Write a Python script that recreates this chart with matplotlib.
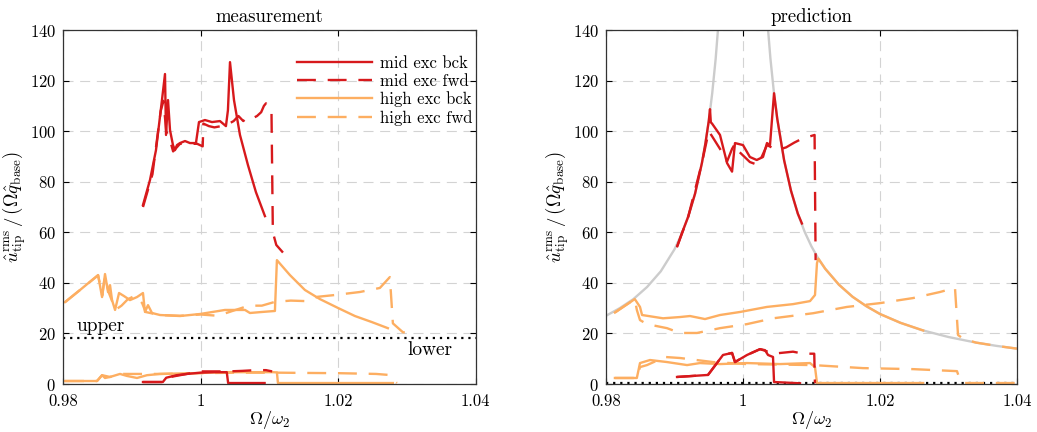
import matplotlib
matplotlib.use("Agg")
import matplotlib.pyplot as plt

plt.rcParams['font.family'] = 'serif'
plt.rcParams['font.serif'] = ['cmr10']
plt.rcParams['mathtext.fontset'] = 'cm'
plt.rcParams['axes.formatter.use_mathtext'] = True

RED = '#d7191c'
ORANGE = '#fdae61'
GRAY = '#cccccc'

xticks = [0.98, 1.0, 1.02, 1.04]
xtick_labels = ['0.98', '1', '1.02', '1.04']
yticks = [0, 20, 40, 60, 80, 100, 120, 140]
titles = ['measurement', 'prediction']
labels = ['mid exc bck', 'mid exc fwd', 'high exc bck', 'high exc fwd']

# ---- measurement ----
m_mid_bck_x = [0.99162, 0.99264, 0.99351, 0.99438, 0.99482, 0.99497, 0.99526, 0.99555, 0.99598, 0.99627,
               0.99656, 0.9970, 0.99773, 0.99845, 0.99932, 0.99976, 1.00063, 1.00165, 1.00281, 1.00368,
               1.00397, 1.00427, 1.00485, 1.00572, 1.00688, 1.00804, 1.00935]
m_mid_bck_y = [70.8, 80.7, 92.5, 112.3, 122.6, 98.5, 112.3, 100.4, 94.5, 92.5,
               94.5, 95.3, 96.1, 95.3, 95.3, 103.6, 104.4, 103.6, 104.0, 102.0,
               108.3, 127.3, 112.3, 98.5, 86.6, 75.9, 66.4]
m_mid_fwd_x = [0.99162, 0.9930, 0.9942, 0.9946, 0.9950, 0.9955, 0.9960, 0.9970, 0.9985, 0.9995,
               1.0003, 1.0004, 1.0012, 1.0020, 1.0030, 1.0038, 1.0048, 1.0055, 1.0062, 1.0068,
               1.0075, 1.0082, 1.0088, 1.0092, 1.0095, 1.0103, 1.0105, 1.0110, 1.01197]
m_mid_fwd_y = [70.0, 83.0, 108.0, 112.0, 100.0, 97.0, 92.0, 95.0, 95.0, 95.0,
               94.0, 103.0, 102.0, 101.5, 102.0, 102.5, 104.0, 106.0, 104.0, 105.5,
               105.0, 106.0, 107.5, 110.0, 111.0, 108.0, 60.0, 55.0, 52.0]
m_mid_bck_lo_x = [0.99162, 0.9945, 0.9950, 0.9965, 0.9980, 1.0, 1.0020, 1.0038, 1.0040, 1.0093]
m_mid_bck_lo_y = [0.8, 0.8, 2.5, 3.5, 4.0, 4.5, 4.7, 4.7, 0.4, 0.4]
m_mid_fwd_lo_x = [0.99162, 0.9945, 0.9950, 0.9980, 1.0, 1.0040, 1.0060, 1.0080, 1.0095, 1.0104]
m_mid_fwd_lo_y = [0.8, 0.8, 2.5, 4.0, 5.0, 5.0, 5.2, 5.5, 5.5, 5.0]

m_high_bck_x = [0.98029, 0.98247, 0.98509, 0.98567, 0.98610, 0.98654, 0.98683, 0.98712, 0.98756, 0.98814,
                0.98886, 0.98973, 0.99075, 0.99162, 0.99191, 0.99235, 0.99293, 0.99409, 0.99700, 0.99991,
                1.00354, 1.00645, 1.00717, 1.00891, 1.01080, 1.01109, 1.01298, 1.01516, 1.01734, 1.01996,
                1.02243, 1.02490, 1.02722]
m_high_bck_y = [32.4, 37.2, 43.1, 34.4, 43.5, 36.4, 39.1, 33.2, 29.3, 36.0,
                34.8, 33.2, 34.4, 36.0, 28.5, 31.2, 28.1, 27.3, 26.9, 27.7,
                29.3, 29.3, 28.1, 28.5, 28.9, 49.0, 43.1, 37.2, 33.6, 30.1,
                26.9, 24.5, 22.1]
m_high_fwd_x = [0.98029, 0.9851, 0.9857, 0.9861, 0.9866, 0.9871, 0.9876, 0.9885, 0.9894, 0.9905,
                0.9915, 0.9920, 0.9940, 0.9970, 1.0, 1.0025, 1.0053, 1.0070, 1.0089, 1.0108,
                1.0131, 1.0153, 1.0170, 1.0195, 1.02315, 1.02606, 1.02751, 1.02795, 1.02940, 1.03013]
m_high_fwd_y = [32.4, 43.0, 35.0, 43.0, 36.5, 33.0, 29.3, 31.0, 33.5, 35.0,
                32.0, 28.5, 27.3, 27.0, 27.5, 27.0, 29.5, 31.0, 31.0, 32.5,
                33.0, 32.8, 34.5, 35.2, 36.4, 38.0, 42.3, 24.0, 20.5, 20.2]
m_high_bck_lo_x = [0.98029, 0.98494, 0.98567, 0.98610, 0.98683, 0.98828, 0.98930, 0.99075, 0.99220, 0.99409,
                   0.99889, 1.00383, 1.01051, 1.01109, 1.01124, 1.02795]
m_high_bck_lo_y = [1.2, 1.2, 3.5, 2.4, 2.8, 4.0, 3.2, 2.4, 3.5, 4.0,
                   4.3, 4.7, 4.7, 4.6, 0.4, 0.4]
m_high_fwd_lo_x = [0.98029, 0.98494, 0.98567, 0.98683, 0.98828, 0.99409, 1.0, 1.005, 1.0112, 1.015,
                   1.020, 1.0255, 1.02737, 1.02810, 1.02853]
m_high_fwd_lo_y = [1.2, 1.2, 3.5, 2.8, 4.0, 4.0, 4.3, 4.5, 4.5, 4.4,
                   4.3, 4.0, 3.6, 1.5, 0.4]
upper_level = 18.2

# ---- prediction ----
lin_left_x = [0.980, 0.982, 0.984, 0.986, 0.988, 0.990, 0.991, 0.992, 0.993, 0.994,
              0.9945, 0.995, 0.9955, 0.996, 0.9965]
lin_left_y = [27.0, 30.0, 33.6, 38.4, 44.6, 53.3, 59.1, 66.2, 75.3, 87.4,
              95.0, 104.0, 114.9, 128.4, 145.5]
lin_right_x = [1.0035, 1.004, 1.0045, 1.005, 1.006, 1.007, 1.008, 1.009, 1.010, 1.011,
               1.012, 1.014, 1.016, 1.018, 1.020, 1.023, 1.026, 1.030, 1.034, 1.037, 1.040]
lin_right_y = [145.4, 128.8, 115.6, 104.9, 88.5, 76.5, 67.4, 60.2, 54.4, 49.6,
               45.6, 39.3, 34.5, 30.8, 27.7, 24.2, 21.4, 18.6, 16.4, 15.1, 14.0]

p_mid_bck_x = [0.9904, 0.991, 0.992, 0.993, 0.994, 0.9945, 0.9950, 0.99518, 0.9953, 0.99548,
               0.99664, 0.99767, 0.9984, 0.99883, 1.0, 1.0010, 1.0020, 1.00292, 1.0035, 1.00394,
               1.00453, 1.005, 1.006, 1.007, 1.008, 1.0086]
p_mid_bck_y = [54.5, 59.1, 66.2, 75.3, 87.4, 95.0, 104.0, 108.7, 103.5, 103.0,
               98.5, 87.4, 84.0, 95.3, 94.5, 89.8, 88.6, 89.8, 95.3, 94.5,
               115.0, 104.9, 88.5, 76.5, 67.4, 63.5]
p_mid_fwd_x = [0.9904, 0.992, 0.994, 0.9950, 0.99548, 0.99664, 0.99767, 0.9984, 0.99883, 0.9995,
               1.0010, 1.0022, 1.0035, 1.0050, 1.0063, 1.0075, 1.0086, 1.01045, 1.01060]
p_mid_fwd_y = [54.5, 66.2, 87.4, 100.0, 98.0, 93.0, 88.0, 93.0, 95.0, 91.7,
               87.8, 86.6, 94.5, 92.5, 93.6, 95.5, 97.0, 98.5, 49.0]
p_mid_bck_lo_x = [0.99037, 0.99489, 0.99708, 0.9984, 0.99883, 1.00059, 1.00248, 1.00321, 1.00365, 1.00438,
                  1.00453, 1.00832]
p_mid_bck_lo_y = [2.8, 3.6, 11.5, 12.3, 8.7, 11.5, 13.8, 13.4, 11.5, 10.7,
                  0.8, 0.3]
p_mid_fwd_lo_x = [0.99037, 0.99489, 0.99708, 0.9984, 0.99883, 1.00059, 1.00248, 1.0040, 1.0044, 1.0073,
                  1.0088, 1.0104, 1.0105]
p_mid_fwd_lo_y = [2.8, 3.6, 11.5, 12.3, 8.7, 11.5, 13.8, 12.5, 12.0, 12.8,
                  12.0, 12.0, 0.3]

p_high_bck_x = [0.9813, 0.9825, 0.9835, 0.9842, 0.98496, 0.98526, 0.98832, 0.9908, 0.99226, 0.99445,
                0.99664, 0.99956, 1.0035, 1.0073, 1.00978, 1.01051, 1.0108, 1.011, 1.012, 1.014,
                1.016, 1.018, 1.020, 1.023, 1.0263]
p_high_bck_y = [28.3, 30.5, 32.3, 33.6, 30.5, 27.3, 26.0, 26.5, 26.9, 25.7,
                27.3, 28.5, 30.5, 31.6, 32.8, 35.2, 47.8, 49.6, 45.6, 39.3,
                34.5, 30.8, 27.7, 24.2, 21.2]
p_high_fwd_x = [0.9813, 0.9842, 0.9845, 0.98496, 0.98598, 0.98890, 0.9908, 0.99328, 0.99664, 1.00058,
                1.0044, 1.01022, 1.01518, 1.02, 1.02482, 1.02876, 1.03022, 1.03095, 1.03139, 1.0321,
                1.034, 1.037, 1.040]
p_high_fwd_y = [28.3, 33.6, 29.3, 25.3, 23.7, 22.1, 20.2, 20.2, 22.1, 23.7,
                26.0, 28.0, 30.5, 32.0, 34.0, 36.4, 37.5, 38.0, 19.4, 18.0,
                16.4, 15.1, 14.0]
p_high_bck_lo_x = [0.9813, 0.9845, 0.98496, 0.98642, 0.9889, 0.99183, 0.99372, 0.99664, 1.00058, 1.0054,
                   1.00978, 1.01051, 1.0108, 1.0263]
p_high_bck_lo_y = [2.4, 2.4, 8.3, 9.5, 8.7, 7.5, 8.3, 7.9, 8.3, 7.9,
                   8.3, 6.7, 0.4, 0.4]
p_high_fwd_lo_x = [0.9813, 0.9845, 0.98496, 0.98598, 0.98861, 0.9908, 0.99562, 1.00058, 1.01022, 1.01752,
                   1.02482, 1.03124, 1.0315, 1.0321, 1.040]
p_high_fwd_lo_y = [2.4, 2.4, 6.7, 7.5, 10.7, 10.3, 8.7, 7.9, 7.5, 6.3,
                   5.9, 5.1, 3.0, 0.4, 0.4]
lower_level = 0.3

fig = plt.figure(figsize=(10.37, 4.32), dpi=100)
ax1 = fig.add_axes([0.0608, 0.111, 0.398, 0.8195])
ax2 = fig.add_axes([0.5844, 0.111, 0.3963, 0.8195])

lw = 1.7
dash = (8, 5)

def style(ax, title):
    ax.set_xlim(0.98, 1.04)
    ax.set_ylim(0, 140)
    ax.set_xticks(xticks, xtick_labels)
    ax.set_yticks(yticks)
    ax.tick_params(direction='in', top=True, right=True, labelsize=12, length=4, width=0.8, pad=5)
    ax.tick_params(axis='x', pad=7)
    ax.grid(True, color='#d3d3d3', linestyle=(0, (9, 6)), linewidth=0.8)
    ax.set_axisbelow(True)
    for s in ax.spines.values():
        s.set_color('#333333')
        s.set_linewidth(0.9)
    ax.set_title(title, fontsize=13.5, pad=6)
    ax.set_xlabel(r'$\Omega/\omega_2$', fontsize=13, labelpad=0)
    ax.set_ylabel(r'$\hat{u}_\mathrm{tip}^\mathrm{rms}\,/\,(\Omega\hat{q}_\mathrm{base})$', fontsize=13.5, labelpad=1)

# measurement panel
ax1.plot(m_high_bck_lo_x, m_high_bck_lo_y, color=ORANGE, lw=lw)
ax1.plot(m_high_fwd_lo_x, m_high_fwd_lo_y, color=ORANGE, lw=lw, dashes=dash)
ax1.plot(m_mid_bck_lo_x, m_mid_bck_lo_y, color=RED, lw=lw)
ax1.plot(m_mid_fwd_lo_x, m_mid_fwd_lo_y, color=RED, lw=lw, dashes=dash)
l1, = ax1.plot(m_mid_bck_x, m_mid_bck_y, color=RED, lw=lw)
l2, = ax1.plot(m_mid_fwd_x, m_mid_fwd_y, color=RED, lw=lw, dashes=dash)
l3, = ax1.plot(m_high_bck_x, m_high_bck_y, color=ORANGE, lw=lw)
l4, = ax1.plot(m_high_fwd_x, m_high_fwd_y, color=ORANGE, lw=lw, dashes=dash)
ax1.axhline(upper_level, color='black', lw=1.6, linestyle=(0, (1, 2.2)))
ax1.text(0.9820, upper_level + 1.0, 'upper', fontsize=14, va='bottom', ha='left')
ax1.text(1.0300, upper_level - 1.3, 'lower', fontsize=14, va='top', ha='left')
ax1.legend([l1, l2, l3, l4], labels, loc='upper left', bbox_to_anchor=(0.567, 0.927),
           frameon=False, fontsize=12, handlelength=4.5, handletextpad=0.45,
           labelspacing=0.15, borderpad=0, borderaxespad=0)
style(ax1, titles[0])

# prediction panel
ax2.plot(lin_left_x, lin_left_y, color=GRAY, lw=lw)
ax2.plot(lin_right_x, lin_right_y, color=GRAY, lw=lw)
ax2.axhline(lower_level, color='black', lw=1.6, linestyle=(0, (1, 2.2)))
ax2.plot(p_high_bck_lo_x, p_high_bck_lo_y, color=ORANGE, lw=lw)
ax2.plot(p_high_fwd_lo_x, p_high_fwd_lo_y, color=ORANGE, lw=lw, dashes=dash)
ax2.plot(p_mid_bck_lo_x, p_mid_bck_lo_y, color=RED, lw=lw)
ax2.plot(p_mid_fwd_lo_x, p_mid_fwd_lo_y, color=RED, lw=lw, dashes=dash)
ax2.plot(p_high_bck_x, p_high_bck_y, color=ORANGE, lw=lw)
ax2.plot(p_high_fwd_x, p_high_fwd_y, color=ORANGE, lw=lw, dashes=dash)
ax2.plot(p_mid_bck_x, p_mid_bck_y, color=RED, lw=lw)
ax2.plot(p_mid_fwd_x, p_mid_fwd_y, color=RED, lw=lw, dashes=dash)
style(ax2, titles[1])

fig.savefig('out.png', dpi=100)
